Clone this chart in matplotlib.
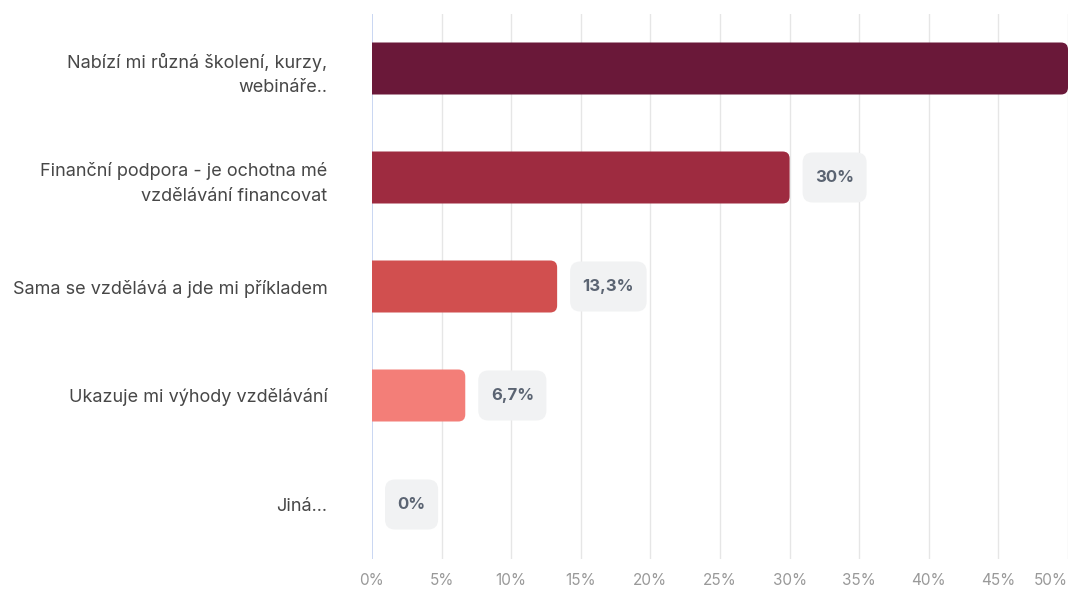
import matplotlib.pyplot as plt
from matplotlib.patches import FancyBboxPatch

plt.rcParams["font.family"] = ["Inter", "DejaVu Sans"]

categories = [
    "Nabízí mi různá školení, kurzy,\nwebináře..",
    "Finanční podpora - je ochotna mé\nvzdělávání financovat",
    "Sama se vzdělává a jde mi příkladem",
    "Ukazuje mi výhody vzdělávání",
    "Jiná...",
]
values = [50, 30, 13.3, 6.7, 0]
value_labels = ["50%", "30%", "13,3%", "6,7%", "0%"]
bar_colors = ["#6a1839", "#9e2b40", "#d14f4f", "#f37e78", "#f7b0a8"]
ticks = list(range(0, 55, 5))
tick_labels = [f"{t}%" for t in ticks]

W, H = 1072, 590
fig = plt.figure(figsize=(W / 100, H / 100), dpi=100)
ax = fig.add_axes([372 / W, 1 - 559 / H, 696 / W, 545 / H])
xmax = 50
ax.set_xlim(0, xmax)
ax.set_ylim(len(categories) - 0.5, -0.5)

# pixels per data unit along each axis
px_x = 696 / xmax
px_y = 545 / len(categories)

for s in ax.spines.values():
    s.set_visible(False)
for t in ticks[1:]:
    ax.axvline(t, color="#e6e6e6", lw=1, zorder=0)
ax.axvline(0, color="#c9d6f2", lw=1.4, zorder=1)

bar_h = 52 / px_y
radius = 7 / px_x
for i, (v, c) in enumerate(zip(values, bar_colors)):
    if v <= 0:
        continue
    # start left of zero so the axes clip leaves a square left end
    ax.add_patch(FancyBboxPatch(
        (-2 * radius, i - bar_h / 2), v + 2 * radius, bar_h,
        boxstyle=f"round,pad=0,rounding_size={radius}",
        mutation_aspect=px_x / px_y,
        fc=c, ec="none", zorder=2,
    ))

fig.canvas.draw()
renderer = fig.canvas.get_renderer()
box_h = 50 / px_y
for i, (v, lab) in enumerate(zip(values, value_labels)):
    if v >= xmax:
        continue
    x0 = v + 13 / px_x
    txt = ax.text(0, i, lab, ha="center", va="center", fontsize=12,
                  fontweight="bold", color="#5b6472", zorder=5)
    tw = txt.get_window_extent(renderer).width
    bw = (tw + 25) / px_x
    txt.set_x(x0 + bw / 2)
    ax.add_patch(FancyBboxPatch(
        (x0, i - box_h / 2), bw, box_h,
        boxstyle=f"round,pad=0,rounding_size={10 / px_x}",
        mutation_aspect=px_x / px_y,
        fc="#f1f2f3", ec="none", zorder=4,
    ))

ax.set_yticks(range(len(categories)))
ax.set_yticklabels(categories, fontsize=13, color="#474747", linespacing=1.6)
ax.set_xticks(ticks)
ax.set_xticklabels(tick_labels, fontsize=11, color="#999999")
ax.tick_params(axis="y", length=0, pad=32)
ax.tick_params(axis="x", length=0, pad=10)
xt = ax.get_xticklabels()
xt[-1].set_horizontalalignment("right")
xt[-1].set_x(xmax + 1 / px_x)

fig.savefig("out.png", dpi=100)
